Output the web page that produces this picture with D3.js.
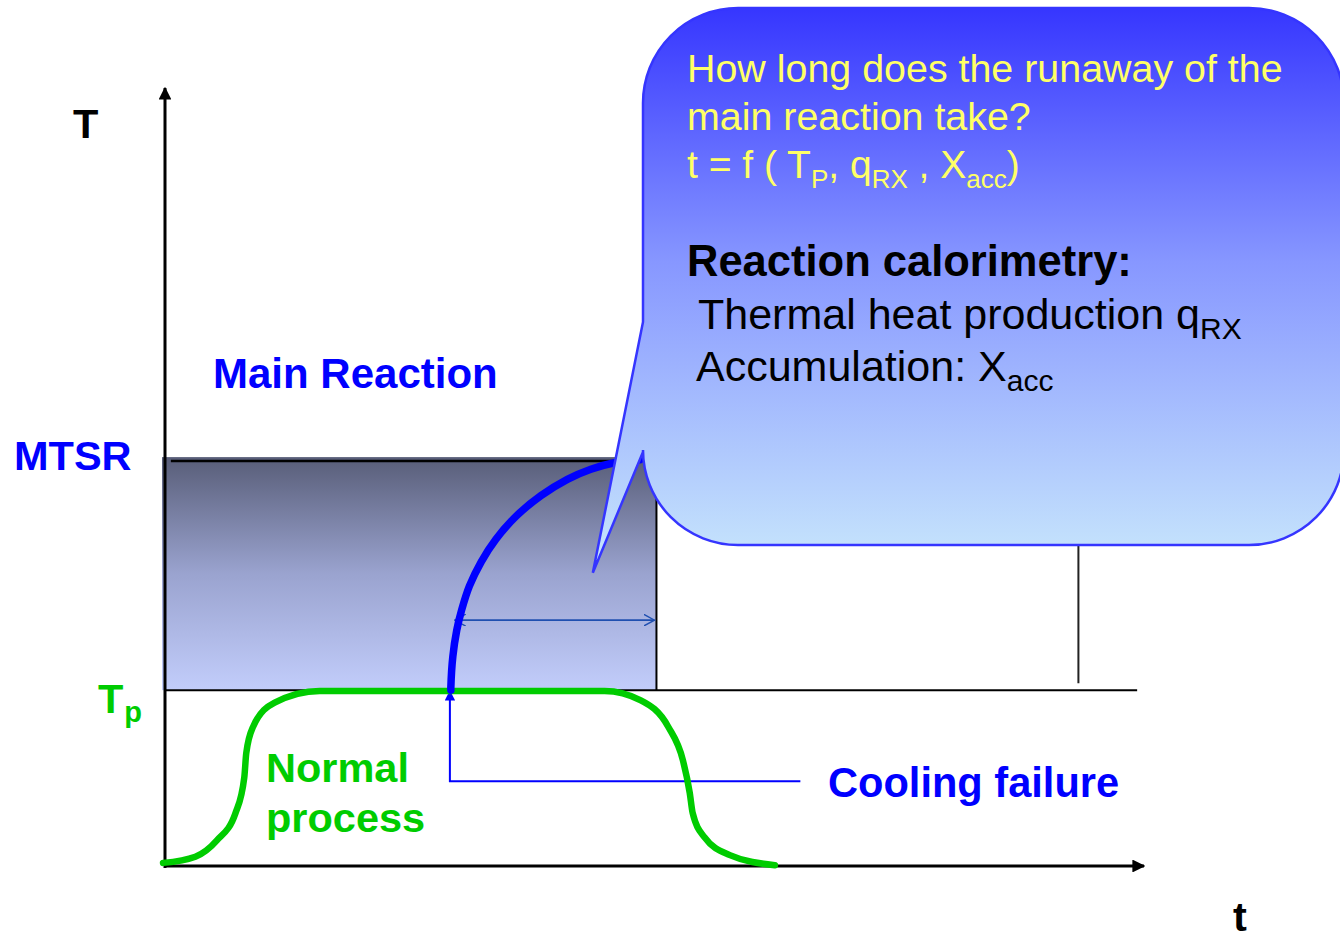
<!DOCTYPE html>
<html>
<head>
<meta charset="utf-8">
<script src="https://cdn.jsdelivr.net/npm/d3@7"></script>
<style>
  body { margin: 0; background: #fff; }
  svg { display: block; font-family: "Liberation Sans", Arial, sans-serif; }
</style>
</head>
<body>
<div id="chart"></div>
<script>
// levels (arbitrary units: t 0..100, T 0..100)
const tpLevel = 22.6;
const mtsrLevel = 52.3;
const coolingFailureAt = 29.1;
const boxEnd = 50.2;
const runawayMarkerAt = 93.3;

// normal process temperature profile [t, T]
const normalProcess = [
    [-0.2, 0.4], [3.1, 1.2], [5.3, 3.3], [7.2, 6.8], [8.1, 11.4], [8.3, 14.5],
    [9.0, 17.9], [11.2, 21.0], [15.8, 22.5], [30, 22.5], [44.9, 22.5],
    [48.6, 21.3], [51.4, 17.9], [52.9, 13.6], [53.6, 9.4], [53.9, 6.8],
    [55.1, 3.7], [57.7, 1.4], [62.3, 0.1]
];

// runaway of main reaction after cooling failure [t, T]
const runaway = [
    [29.2, 22.6], [29.2, 23.0], [29.4, 26.9], [29.8, 30.3], [30.3, 32.9],
    [31.1, 36.0], [32.3, 39.1], [33.8, 42.0], [35.9, 45.0], [38.4, 47.6],
    [41.1, 49.7], [43.5, 51.0], [45.8, 51.8], [48.5, 52.2]
];

const axisLabels = ["T", "t"];
const levelLabels = ["MTSR", "T", "p"];
const noteLines = ["How long does the runaway of the", "main reaction take?"];

const width = 1340, height = 936;
const blue = "#0000ff", green = "#00cc00";

const svg = d3.select("#chart").append("svg")
    .attr("width", width)
    .attr("height", height);

const x = d3.scaleLinear().domain([0, 100]).range([165, 1144]);
const y = d3.scaleLinear().domain([0, 100]).range([866, 88]);

const defs = svg.append("defs");

const boxGrad = defs.append("linearGradient")
    .attr("id", "boxGrad").attr("x1", 0).attr("y1", 0).attr("x2", 0).attr("y2", 1);
boxGrad.append("stop").attr("offset", "0%").attr("stop-color", "#585d78");
boxGrad.append("stop").attr("offset", "50%").attr("stop-color", "#9aa3cf");
boxGrad.append("stop").attr("offset", "100%").attr("stop-color", "#c2cdfb");

const noteGrad = defs.append("linearGradient")
    .attr("id", "noteGrad").attr("x1", 0).attr("y1", 0).attr("x2", 0).attr("y2", 1);
noteGrad.append("stop").attr("offset", "0%").attr("stop-color", "#3636ff");
noteGrad.append("stop").attr("offset", "45%").attr("stop-color", "#8797ff");
noteGrad.append("stop").attr("offset", "100%").attr("stop-color", "#c9e8fc");

["axisHead", "blueHead"].forEach((id, i) => {
    defs.append("marker")
        .attr("id", id)
        .attr("viewBox", "0 0 10 10")
        .attr("refX", 9).attr("refY", 5)
        .attr("markerWidth", i === 0 ? 4.3 : 5.2)
        .attr("markerHeight", i === 0 ? 4.3 : 5.2)
        .attr("orient", "auto")
        .append("path")
        .attr("d", "M0,0 L10,5 L0,10 Z")
        .attr("fill", i === 0 ? "#000" : blue);
});

defs.append("marker")
    .attr("id", "openHead")
    .attr("viewBox", "0 0 12 12")
    .attr("refX", 11).attr("refY", 6)
    .attr("markerWidth", 12).attr("markerHeight", 12)
    .attr("markerUnits", "userSpaceOnUse")
    .attr("orient", "auto-start-reverse")
    .append("path")
    .attr("d", "M0,0 L11,6 L0,12")
    .attr("fill", "none")
    .attr("stroke", "#1f4fb0")
    .attr("stroke-width", 1.4);

// shaded accumulation box between Tp and MTSR
svg.append("rect")
    .attr("x", x(0) - 3)
    .attr("y", y(mtsrLevel) - 2)
    .attr("width", x(boxEnd) - x(0) + 3)
    .attr("height", y(tpLevel) - y(mtsrLevel) + 2)
    .attr("fill", "url(#boxGrad)");

svg.append("line")
    .attr("x1", x(0.6)).attr("x2", x(48))
    .attr("y1", y(mtsrLevel) + 2).attr("y2", y(mtsrLevel) + 2)
    .attr("stroke", "#000").attr("stroke-width", 2.5);

svg.append("line")
    .attr("x1", x(boxEnd)).attr("x2", x(boxEnd))
    .attr("y1", y(mtsrLevel)).attr("y2", y(tpLevel))
    .attr("stroke", "#000").attr("stroke-width", 2);

// Tp level line
svg.append("line")
    .attr("x1", x(0)).attr("x2", x(99.3))
    .attr("y1", y(tpLevel)).attr("y2", y(tpLevel))
    .attr("stroke", "#000").attr("stroke-width", 2);

// end of runaway marker
svg.append("line")
    .attr("x1", x(runawayMarkerAt)).attr("x2", x(runawayMarkerAt))
    .attr("y1", y(60)).attr("y2", y(23.5))
    .attr("stroke", "#222").attr("stroke-width", 2);

// axes
svg.append("line")
    .attr("x1", x(0)).attr("x2", x(0))
    .attr("y1", y(0) + 2).attr("y2", y(100))
    .attr("stroke", "#000").attr("stroke-width", 3)
    .attr("marker-end", "url(#axisHead)");

svg.append("line")
    .attr("x1", x(0)).attr("x2", x(100))
    .attr("y1", y(0)).attr("y2", y(0))
    .attr("stroke", "#000").attr("stroke-width", 3)
    .attr("marker-end", "url(#axisHead)");

// time span arrow
svg.append("line")
    .attr("x1", x(29.6)).attr("x2", x(50.0))
    .attr("y1", y(31.6)).attr("y2", y(31.6))
    .attr("stroke", "#1f4fb0").attr("stroke-width", 1.6)
    .attr("marker-start", "url(#openHead)")
    .attr("marker-end", "url(#openHead)");

// cooling failure pointer
svg.append("path")
    .attr("d", `M${x(64.9)},${y(10.9)} L${x(coolingFailureAt)},${y(10.9)} L${x(coolingFailureAt)},${y(tpLevel) + 1}`)
    .attr("fill", "none")
    .attr("stroke", blue).attr("stroke-width", 2)
    .attr("marker-end", "url(#blueHead)");

// curves
const line = d3.line().x(d => x(d[0])).y(d => y(d[1]));

svg.append("path")
    .datum(normalProcess)
    .attr("d", line.curve(d3.curveMonotoneX))
    .attr("fill", "none")
    .attr("stroke", green).attr("stroke-width", 6.5)
    .attr("stroke-linecap", "round").attr("stroke-linejoin", "round");

svg.append("path")
    .datum(runaway)
    .attr("d", line.curve(d3.curveCatmullRom.alpha(0.5)))
    .attr("fill", "none")
    .attr("stroke", blue).attr("stroke-width", 7.5)
    .attr("stroke-linecap", "round");

// speech bubble
const bx0 = 643, by0 = 8, bx1 = 1344, by1 = 545, r = 95;
const tip = [x(43.7), y(37.7)];
svg.append("path")
    .attr("d", `M${bx0 + r},${by0} L${bx1 - r},${by0} A${r},${r} 0 0 1 ${bx1},${by0 + r}
        L${bx1},${by1 - r} A${r},${r} 0 0 1 ${bx1 - r},${by1} L${bx0 + r},${by1}
        A${r},${r} 0 0 1 ${bx0},${by1 - r} L${bx0},452 L${tip[0]},${tip[1]} L${bx0},322
        L${bx0},${by0 + r} A${r},${r} 0 0 1 ${bx0 + r},${by0} Z`)
    .attr("fill", "url(#noteGrad)")
    .attr("stroke", "#3535ff")
    .attr("stroke-width", 2.5);

// labels
const bold = (tx, ty, txt, color, size) => svg.append("text")
    .attr("x", tx).attr("y", ty)
    .attr("font-size", size || 41.5).attr("font-weight", "bold")
    .attr("fill", color).text(txt);

bold(73, 138, axisLabels[0], "#000");
bold(1233, 931, axisLabels[1], "#000");
bold(14, 470, levelLabels[0], blue);
bold(213, 388, "Main Reaction", blue, 42);
bold(828, 797, "Cooling failure", blue, 41.6);
bold(266, 782, "Normal", green);
bold(266, 832, "process", green);

const tp = bold(98, 713, levelLabels[1], green);
tp.append("tspan").attr("dx", 1).attr("dy", 9).attr("font-size", 29).text(levelLabels[2]);

// bubble text
const yellow = "#ffff66";
noteLines.forEach((s, i) => {
    svg.append("text")
        .attr("x", 687).attr("y", 82 + i * 48)
        .attr("font-size", 39.4).attr("fill", yellow)
        .text(s);
});

const sub = (sel, parts) => {
    parts.forEach(p => {
        sel.append("tspan")
            .attr("dy", p[1])
            .attr("font-size", p[2])
            .text(p[0]);
    });
};

const formula = svg.append("text")
    .attr("x", 687).attr("y", 178)
    .attr("font-size", 39).attr("fill", yellow);
sub(formula, [
    ["t = f ( T", 0, 39], ["P", 10, 26], [", q", -10, 39], ["RX", 10, 26],
    [" , X", -10, 39], ["acc", 10, 26], [")", -10, 39]
]);

svg.append("text")
    .attr("x", 687).attr("y", 276)
    .attr("font-size", 43.5).attr("font-weight", "bold").attr("fill", "#000")
    .text("Reaction calorimetry:");

const heat = svg.append("text")
    .attr("x", 698).attr("y", 329)
    .attr("font-size", 43).attr("fill", "#000");
sub(heat, [["Thermal heat production q", 0, 43], ["RX", 10, 30]]);

const acc = svg.append("text")
    .attr("x", 696).attr("y", 381)
    .attr("font-size", 43).attr("fill", "#000");
sub(acc, [["Accumulation: X", 0, 43], ["acc", 10, 30]]);
</script>
</body>
</html>
